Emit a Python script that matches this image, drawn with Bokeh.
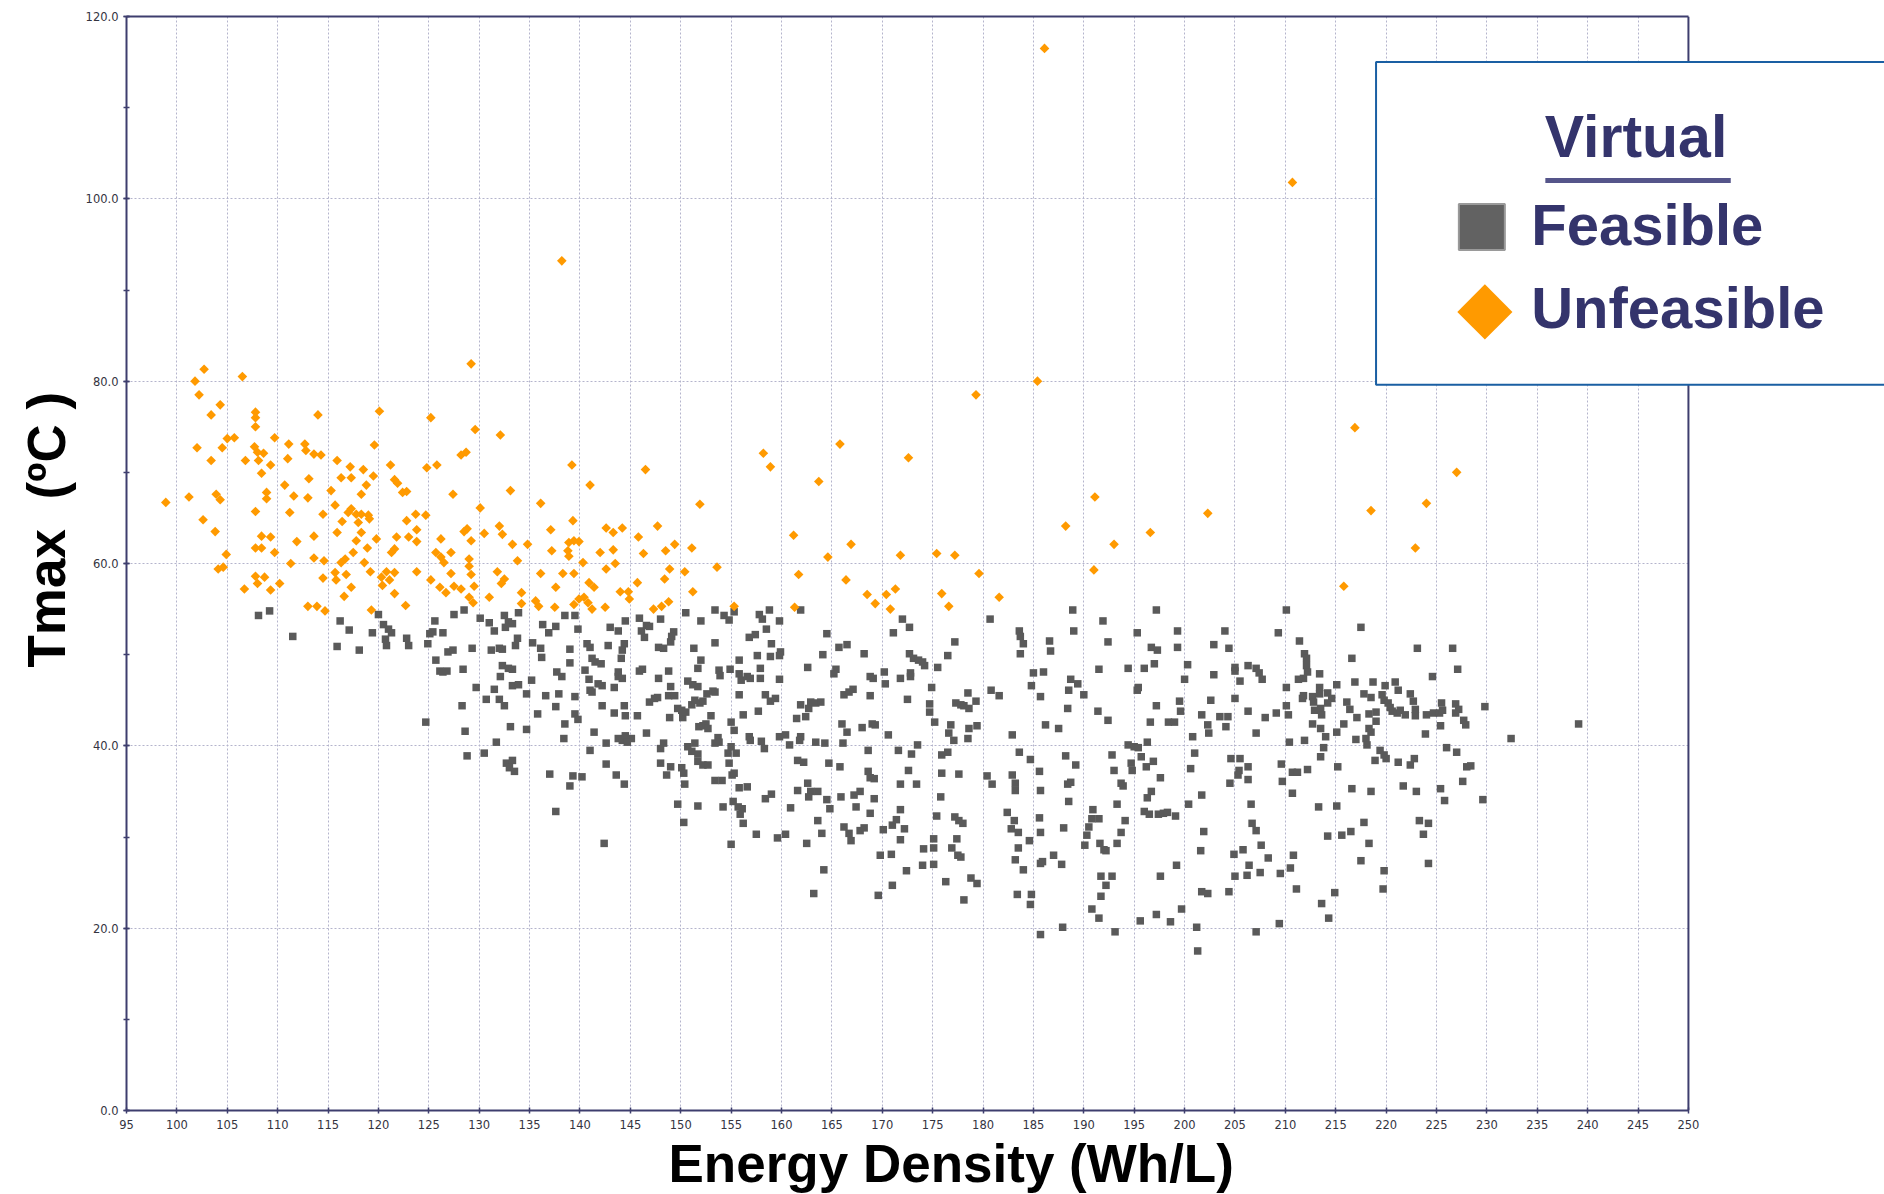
import math
from bokeh.plotting import figure
from bokeh.models import (Range1d, LinearAxis, SingleIntervalTicker, FixedTicker,
                          PrintfTickFormatter, Label, Title)
from bokeh.embed import file_html
from bokeh.resources import INLINE

# ---------------- data ----------------
x_label = "Energy Density (Wh/L)"
y_label = "Tmax \u00a0(ºC )"
legend_title = "Virtual"
legend_names = ["Feasible", "Unfeasible"]

feasible_pts = [
    (108.1,54.3),(109.2,54.8),(111.5,52.0),(116.2,53.7),(117.1,52.7),(115.9,50.9),(118.1,50.5),(119.4,52.4),
    (120.0,54.4),(120.5,53.3),(121.0,52.8),(121.3,52.4),(120.7,51.7),(120.8,51.0),
    (127.5,54.4),(128.5,54.9),(125.6,53.7),(130.1,54.0),(131.0,53.5),(132.5,54.3),(132.9,53.6),(133.3,53.4),
    (132.6,53.0),(133.9,54.6),(136.3,53.3),(136.9,52.4),(137.6,53.1),(138.5,54.3),(139.5,54.3),(139.8,52.8),
    (143.0,53.0),(143.8,52.6),(144.5,53.7),(145.9,54.0),(146.6,53.2),(146.9,53.1),(148.0,53.9),(150.5,54.6),
    (152.0,53.7),(153.4,54.9),(154.3,54.3),(154.8,53.8),(155.3,54.7),(157.8,54.4),(158.1,53.9),(158.8,54.9),
    (159.8,53.7),(161.9,54.9),(164.5,52.3),(171.1,52.4),
    (122.8,51.8),(123.0,51.0),(125.1,52.3),(125.4,52.5),(124.9,51.2),(126.4,52.4),(129.3,50.7),(131.5,52.6),
    (131.2,50.5),(132.0,50.7),(132.3,50.6),(133.8,51.8),(133.6,51.0),(135.3,51.3),(136.1,50.7),(136.2,49.7),
    (139.0,50.6),(139.0,49.1),(140.7,51.2),(141.0,50.8),(142.8,51.0),(144.4,51.2),(144.2,50.5),(144.1,49.6),
    (146.1,52.6),(146.4,51.9),(147.8,50.8),(148.3,50.7),(149.0,51.4),(149.3,52.5),(149.1,52.0),(151.3,50.7),
    (153.4,51.3),(156.8,51.9),(157.4,52.2),(158.5,52.8),(159.0,51.2),(159.9,50.3),(159.8,49.9),(164.1,50.0),
    (165.7,50.8),(166.5,51.1),(168.2,50.1),
    (125.7,49.4),(126.1,48.2),(126.4,48.1),(126.8,48.2),(126.9,50.3),(127.4,50.5),(128.4,48.4),(129.7,46.4),
    (130.7,45.1),(131.5,46.2),(132.3,48.8),(132.9,48.5),(133.3,48.4),(132.1,47.6),(133.3,46.6),(133.9,46.7),
    (132.0,45.1),(132.5,44.4),(134.7,45.7),(135.2,47.2),(136.6,45.5),(137.7,48.1),(138.2,47.6),(137.9,45.7),
    (139.5,45.4),(140.5,48.3),(140.9,47.3),(141.2,49.6),(141.5,49.2),(142.1,49.0),(141.0,46.1),(141.2,45.9),
    (141.8,46.8),(142.2,46.6),(143.4,46.4),(143.8,48.1),(143.8,47.6),(144.2,47.4),(145.9,48.2),(146.2,48.4),
    (147.8,47.4),(148.8,48.2),(149.0,46.5),(148.8,45.5),(149.4,45.5),(150.7,47.1),(151.2,46.7),(151.7,46.5),
    (151.7,48.5),(152.0,49.4),(153.8,48.3),(153.9,47.7),(154.9,48.4),(155.8,49.4),(155.8,47.9),(156.0,47.2),
    (156.6,47.6),(156.9,47.4),(157.9,48.5),(157.9,47.4),(157.6,49.9),(158.9,49.8),(159.8,47.3),(162.6,48.6),
    (165.4,48.4),(165.2,47.9),(168.8,47.6),(169.1,47.4),(168.8,45.5),(170.2,48.1),(170.3,46.8),
    (124.7,42.6),(128.3,44.4),(128.6,41.6),(130.5,39.2),(128.8,38.9),(131.7,40.4),(133.1,42.1),(134.7,41.8),
    (135.8,43.5),(137.6,44.3),(138.5,42.4),(139.5,43.5),(139.8,42.9),(138.4,40.8),(141.4,41.5),(142.2,44.4),
    (142.6,40.3),(141.0,39.5),(143.4,43.6),(144.4,44.4),(144.5,43.3),(145.7,43.3),(143.8,40.8),(144.2,40.6),
    (144.5,41.1),(145.1,40.8),(144.7,40.4),(146.6,41.4),(146.9,44.8),(147.4,45.2),(147.7,45.3),(148.9,43.1),
    (149.7,44.1),(150.1,43.9),(150.2,43.1),(150.5,43.7),(151.1,44.5),(151.4,45.0),(151.9,44.7),(152.2,44.9),
    (152.6,45.7),(153.2,46.0),(153.4,45.9),(153.0,43.3),(151.8,42.1),(152.2,42.2),(152.5,42.4),(152.7,41.9),
    (153.7,40.9),(153.4,40.3),(153.8,40.4),(155.0,42.6),(155.3,41.7),(156.2,43.4),(155.8,45.6),(157.7,43.8),
    (156.8,41.0),(156.9,40.6),(158.0,40.5),(158.3,39.7),(158.4,45.6),(158.9,44.9),(159.4,45.2),(159.8,41.0),
    (160.4,41.2),(161.5,43.0),(161.9,44.5),(162.4,43.2),(162.7,44.1),(162.9,44.8),(163.4,44.7),(163.9,44.8),
    (161.9,41.0),(161.8,40.6),(160.8,40.1),(163.4,40.4),(164.3,40.3),(166.0,42.4),(166.5,41.5),(166.1,40.3),
    (166.2,45.6),(166.7,45.9),(167.1,46.2),(168.0,42.0),(169.0,42.4),(169.3,42.3),(170.6,41.2),
    (132.7,38.1),(133.3,38.4),(133.0,37.6),(133.5,37.2),(137.0,36.9),(139.3,36.7),(140.2,36.6),(139.0,35.6),
    (137.6,32.8),(142.6,38.0),(143.6,36.8),(144.4,35.8),(142.4,29.3),(148.0,39.7),(148.3,40.3),(148.0,38.1),
    (149.0,37.7),(148.6,36.8),(150.1,37.6),(150.3,37.0),(150.4,35.8),(149.7,33.6),(150.3,31.6),(150.7,39.9),
    (151.4,40.3),(151.1,39.4),(151.7,39.1),(151.7,38.3),(152.2,37.9),(152.7,37.9),(151.7,33.4),(153.4,36.2),
    (154.1,36.2),(154.2,33.3),(154.7,39.2),(155.0,39.9),(154.8,38.1),(155.5,39.2),(155.1,36.8),(155.3,37.0),
    (155.2,33.9),(155.7,33.3),(156.1,33.1),(155.9,32.5),(156.2,31.5),(155.0,29.2),(155.8,35.4),(156.6,35.5),
    (157.5,30.3),(158.4,34.2),(159.0,34.7),(159.6,29.9),(160.4,30.3),(160.9,33.2),(161.6,38.4),(162.2,38.2),
    (161.6,35.1),(162.6,35.9),(162.9,35.0),(163.6,35.0),(162.7,34.4),(162.5,29.3),(163.6,31.8),(164.0,30.4),
    (164.2,26.4),(163.2,23.8),(164.7,38.1),(165.8,37.7),(164.5,34.1),(164.8,33.1),(165.9,34.4),(166.2,31.1),
    (166.7,30.4),(166.9,29.6),(167.2,34.6),(167.4,33.3),(167.8,35.0),(167.8,30.7),(168.2,31.0),(168.6,37.2),
    (168.8,36.5),(169.2,36.4),(168.6,39.5),(168.8,32.6),(169.2,34.2),(170.1,30.8),(171.0,31.3),(171.4,31.9),
    (169.8,28.0),(170.9,28.1),(171.0,24.7),(169.6,23.6),(171.8,35.8),(171.8,33.0),(171.8,47.4),(171.8,29.7),
    (171.6,39.5),
    (172.0,53.9),(172.7,53.0),(172.7,50.1),(173.1,49.6),(173.6,49.4),(174.0,49.2),(174.2,48.8),(172.8,48.0),
    (172.8,47.6),(172.5,45.1),(175.5,48.6),(176.5,49.9),(177.2,51.4),(174.9,46.4),(174.7,44.6),(174.7,43.7),
    (175.2,42.6),(177.3,44.7),(177.8,44.5),(178.1,44.4),(178.6,44.1),(178.5,45.8),(179.3,44.9),(176.8,42.3),
    (176.6,41.4),(177.1,40.6),(178.5,40.8),(178.6,41.9),(179.4,42.2),(173.5,40.1),(172.9,39.1),(172.6,37.3),
    (173.4,35.8),(172.2,30.9),(172.4,26.3),(174.1,28.7),(174.0,26.9),(175.1,28.8),(175.1,27.0),(176.3,25.1),
    (175.1,29.8),(175.8,34.4),(175.4,32.3),(177.2,32.2),(177.6,31.8),(178.0,31.5),(177.4,29.8),(176.9,28.8),
    (177.5,28.0),(177.8,27.8),(178.1,23.1),(178.8,25.5),(179.4,24.9),(175.9,37.0),(177.6,36.9),(175.9,39.0),
    (176.5,39.3),(180.7,53.9),(180.8,46.1),(181.6,45.5),(180.4,36.7),(180.9,35.8),(182.4,32.7),(182.8,30.9),
    (183.5,30.5),(183.2,27.5),(183.1,31.8),(183.5,28.8),(184.6,29.6),(183.4,23.7),(184.8,23.7),(184.7,22.6),
    (182.9,41.2),(183.6,52.6),(183.7,52.0),(184.0,51.2),(183.7,50.1),(182.9,36.8),(183.2,35.9),(183.2,35.1),
    (183.6,39.3),(184.0,26.4),(184.7,38.5),(185.0,48.0),(186.0,48.1),(184.8,46.6),(185.7,45.4),(186.6,51.5),
    (186.7,50.4),(186.2,42.3),(187.5,41.9),(185.6,37.2),(185.7,35.1),(185.6,32.1),(185.7,30.5),(185.7,27.1),
    (185.9,27.3),(187.0,28.0),(187.8,27.0),(185.7,19.3),(187.9,20.1),(188.2,38.9),(189.2,37.9),(188.4,35.8),
    (188.7,36.0),(188.5,33.9),(188.0,31.0),(188.9,54.9),(189.0,52.6),(188.7,47.3),(189.4,46.8),(188.5,46.1),
    (190.0,45.6),(188.4,44.1),(191.4,43.8),(192.4,42.8),(191.9,53.7),(192.4,51.4),(191.5,48.4),(190.1,29.1),
    (190.3,30.2),(190.5,31.1),(190.8,32.0),(191.5,32.0),(190.9,33.0),(191.6,29.3),(192.0,28.6),(192.2,28.5),
    (191.7,25.7),(192.8,25.7),(192.2,24.7),(191.7,23.5),(190.8,22.1),(191.5,21.1),(193.1,19.6),(192.8,39.0),
    (193.0,37.3),(193.7,35.9),(193.9,35.6),(193.3,33.6),(194.1,31.8),(193.7,30.5),(193.3,29.3),(194.4,48.5),
    (195.3,52.4),(195.4,46.4),(195.3,46.1),(194.4,40.1),(195.0,39.9),(195.4,39.8),(196.3,40.4),(195.7,38.8),
    (196.2,37.7),(196.9,38.3),(194.7,38.1),(194.8,37.3),(196.7,50.8),(197.3,50.5),(196.0,48.5),(197.0,49.0),
    (197.2,54.9),(197.2,44.4),(196.6,42.6),(197.6,36.5),(196.7,35.0),(196.3,34.3),(196.0,32.8),(196.5,32.5),
    (197.4,32.5),(197.9,32.6),(198.3,32.7),(199.1,32.3),(197.6,25.7),(199.2,26.9),(195.6,20.8),(197.2,21.5),
    (198.6,20.7),(199.7,22.1),(199.3,52.6),(199.3,50.8),(200.3,48.9),(200.0,47.3),(199.5,44.9),(199.6,43.8),
    (198.4,42.6),(199.0,42.6),(200.8,41.0),(201.0,39.2),(200.6,37.5),(200.4,33.6),(201.7,34.6),(201.9,30.6),
    (201.6,28.5),(201.7,24.0),(202.3,23.8),(201.2,20.1),(201.3,17.5),(201.7,43.4),(202.6,45.0),(202.9,51.1),
    (202.9,47.8),(202.3,42.3),(202.4,41.4),(203.5,43.2),(204.3,43.2),(204.1,42.1),(204.0,52.6),(204.4,50.7),
    (205.0,48.6),(205.0,48.2),(205.5,47.1),(205.0,45.2),(206.3,48.8),(207.1,48.5),(207.4,48.0),(207.7,47.3),
    (206.3,43.8),(207.1,41.4),(208.0,43.1),(209.1,43.6),(204.6,38.6),(205.5,38.6),(205.4,37.3),(205.3,36.8),
    (204.5,35.9),(206.3,37.7),(206.3,36.3),(206.6,33.6),(206.7,31.5),(207.1,30.7),(207.6,29.1),(208.3,27.7),
    (204.9,28.1),(205.8,28.6),(206.4,26.9),(206.2,25.8),(205.0,25.7),(207.5,26.1),(204.4,24.0),(207.1,19.6),
    (209.4,20.5),(209.3,52.4),(210.1,54.9),(210.1,46.4),(210.1,44.4),(210.3,43.4),(210.4,40.4),(209.6,38.0),
    (209.7,36.1),(210.7,37.1),(211.2,37.1),(212.2,37.4),(210.7,34.8),(209.5,26.0),(210.5,26.6),(210.8,28.0),
    (211.1,24.3),(211.4,51.5),(211.9,50.1),(212.1,49.6),(212.1,48.8),(212.2,48.1),(211.8,47.4),(211.3,47.3),
    (211.8,45.5),(211.7,45.2),(212.7,45.4),(212.8,44.8),(212.9,43.9),(213.4,46.4),(213.4,45.7),(211.9,40.6),
    (212.7,42.4),(213.5,41.9),(213.5,38.8),(213.3,33.3),(213.6,22.7),(213.4,47.9),(213.5,44.1),(213.6,43.4),
    (217.5,53.0),(216.6,49.6),(215.1,46.7),(216.9,47.0),(218.7,47.0),(219.9,46.6),(220.9,47.0),(221.2,46.1),
    (223.1,50.7),(226.6,50.7),(227.1,48.4),(224.6,47.6),(214.2,45.8),(214.6,45.2),(214.2,44.7),(216.1,44.8),
    (216.4,44.0),(217.8,45.7),(218.5,45.3),(219.6,45.6),(219.8,45.0),(220.2,44.7),(220.4,44.2),(220.6,43.8),
    (221.1,43.6),(221.4,43.9),(221.9,43.4),(222.4,45.7),(222.7,44.9),(222.9,44.0),(222.9,43.3),(224.0,43.4),
    (224.7,43.6),(225.3,43.6),(225.6,43.9),(225.5,44.7),(225.4,42.2),(226.9,44.6),(227.2,44.0),(226.9,43.6),
    (227.7,42.8),(227.9,42.3),(229.8,44.3),(215.1,41.5),(215.8,42.4),(217.0,40.7),(218.0,40.8),(218.3,41.9),
    (218.5,41.5),(218.3,43.5),(219.0,43.7),(219.0,42.7),(218.1,40.1),(217.1,43.1),(214.0,41.0),(213.8,39.8),
    (215.2,37.7),(219.4,39.5),(219.8,39.0),(220.0,38.6),(218.9,38.4),(221.2,38.2),(222.4,37.9),(222.8,38.6),
    (223.9,41.3),(226.0,39.8),(227.0,39.3),(228.0,37.7),(228.4,37.8),(227.6,36.1),(232.4,40.8),(239.1,42.4),
    (216.6,35.3),(218.5,35.0),(215.1,33.4),(221.7,35.6),(223.0,35.0),(225.4,35.3),(225.8,34.0),(229.6,34.1),
    (217.8,31.6),(214.2,30.1),(215.6,30.2),(216.5,30.6),(218.3,29.3),(217.5,27.4),(223.3,31.8),(224.2,31.5),
    (223.7,30.3),(224.2,27.1),(219.8,26.3),(219.7,24.3),(214.9,23.9),(214.3,21.1),
]

unfeasible_pts = [
    (98.9,66.7),(101.2,67.3),(101.8,80.0),(102.7,81.3),(102.2,78.5),(102.0,72.7),(103.4,76.3),(104.3,77.4),
    (103.4,71.3),(102.6,64.8),(103.8,63.5),(103.9,67.6),(104.3,67.0),(104.5,72.7),(105.0,73.7),(105.7,73.8),
    (104.9,61.0),(104.1,59.4),(104.6,59.6),(106.5,80.5),(106.8,71.3),(106.7,57.2),(107.8,76.6),(107.8,76.0),
    (107.8,75.0),(107.7,72.8),(108.0,72.2),(108.6,72.1),(108.1,71.3),(108.4,69.9),(108.9,67.8),(108.9,67.1),
    (107.8,65.7),(108.4,63.0),(109.3,62.9),(107.8,61.7),(108.4,61.7),(109.7,61.2),(107.8,58.6),(108.0,57.8),
    (108.7,58.5),(109.3,57.1),(110.2,57.8),(109.7,73.8),(109.3,70.8),(111.1,73.1),(111.0,71.5),(110.7,68.6),
    (111.6,67.4),(111.2,65.6),(111.9,62.4),(111.3,60.0),(112.7,73.1),(112.8,72.4),(113.6,72.0),(114.3,71.9),
    (114.0,76.3),(113.1,69.3),(113.0,67.2),(114.5,65.4),(113.6,63.0),(113.6,60.6),(114.6,60.3),(114.5,58.4),
    (113.0,55.3),(113.9,55.3),(114.7,54.8),(115.3,68.0),(115.9,71.3),(115.7,66.4),(116.4,64.6),(115.9,63.4),
    (117.2,70.6),(116.3,69.4),(117.3,69.4),(117.0,65.6),(117.3,66.0),(117.8,65.4),(118.0,64.5),(118.3,65.4),
    (119.0,65.3),(119.1,64.9),(118.5,70.3),(118.8,68.6),(118.3,67.6),(119.5,69.6),(118.3,63.4),(117.8,62.5),
    (118.9,61.7),(117.5,61.2),(116.7,60.5),(116.3,60.1),(118.6,60.1),(119.2,59.1),(119.8,62.7),(115.7,59.0),
    (115.8,58.2),(116.8,58.8),(117.3,57.4),(116.6,56.4),(119.3,54.9),(120.1,76.7),(119.6,73.0),(121.2,70.8),
    (121.6,69.2),(121.9,68.8),(122.4,67.8),(122.8,67.9),(122.8,64.7),(123.7,65.4),(124.7,65.3),(123.8,63.7),
    (123.8,62.4),(123.0,62.9),(121.8,62.9),(121.6,61.6),(121.3,61.2),(120.3,58.5),(120.8,59.1),(121.1,58.2),
    (120.4,57.6),(121.6,59.0),(121.6,56.7),(122.7,55.4),(123.8,59.1),(125.2,76.0),(124.8,70.5),(125.8,70.8),
    (127.4,67.6),(126.2,62.7),(125.7,61.2),(126.2,60.7),(126.5,60.1),(127.2,61.2),(127.2,58.9),(125.2,58.2),
    (126.1,57.4),(126.7,56.8),(127.5,57.5),(128.2,57.2),(129.2,81.9),(129.6,74.7),(128.2,71.9),(128.7,72.2),
    (130.1,66.1),(128.5,63.5),(128.8,63.8),(129.2,62.5),(130.5,63.3),(129.0,60.5),(129.0,59.7),(129.2,58.8),
    (129.5,57.5),(129.0,56.3),(129.4,55.7),(131.0,56.3),(132.1,74.1),(133.1,68.0),(132.0,64.1),(132.3,63.2),
    (133.3,62.1),(134.8,62.1),(133.8,60.3),(131.8,59.1),(132.5,58.3),(132.2,57.8),(134.2,56.8),(134.2,55.6),
    (136.1,66.6),(137.1,63.7),(137.2,61.4),(136.1,58.9),(137.6,57.4),(135.6,55.9),(135.9,55.3),(137.5,55.2),
    (139.2,70.8),(139.3,64.7),(138.9,62.3),(139.4,62.5),(139.9,62.4),(138.8,61.4),(138.9,60.8),(138.3,58.9),
    (139.4,58.9),(139.4,55.5),(139.9,56.1),(140.4,56.3),(140.8,55.7),(141.0,68.6),(140.3,60.1),(140.9,57.9),
    (138.2,93.2),
    (141.4,57.4),(141.2,55.0),(146.5,70.3),(142.6,63.9),(143.3,63.4),(144.2,63.9),(142.0,61.2),(143.3,61.5),
    (143.5,60.0),(142.6,59.4),(142.5,55.2),(144.0,56.9),(144.8,56.9),(144.9,56.1),(145.8,62.9),(147.7,64.1),
    (146.3,61.1),(148.5,61.4),(149.4,62.1),(148.9,59.4),(148.4,58.3),(145.7,57.9),(147.3,55.0),(148.1,55.3),
    (148.8,55.8),(151.9,66.5),(151.1,61.7),(150.4,59.1),(151.2,56.9),(153.6,59.6),(155.3,55.3),(158.2,72.1),
    (158.9,70.6),(161.2,63.1),(161.7,58.8),(161.3,55.2),(163.7,69.0),(165.8,73.1),(164.6,60.7),(166.9,62.1),
    (166.4,58.2),(168.5,56.6),(169.3,55.6),(170.4,56.6),(171.3,57.2),(170.8,55.0),(171.8,60.9),(172.6,71.6),
    (175.4,61.1),(177.2,60.9),(179.3,78.5),(175.9,56.7),(176.6,55.3),(179.6,58.9),(181.6,56.3),
    (185.4,80.0),(188.2,64.1),(191.1,67.3),(193.0,62.1),(191.0,59.3),(196.6,63.4),(202.3,65.5),(216.9,74.9),
    (218.5,65.8),(215.8,57.5),(222.9,61.7),(224.0,66.6),(227.0,70.0),(210.7,101.8),(186.1,116.5),
]

feasible_x = [p[0] for p in feasible_pts]
feasible_y = [p[1] for p in feasible_pts]
unfeasible_x = [p[0] for p in unfeasible_pts]
unfeasible_y = [p[1] for p in unfeasible_pts]

X_MIN, X_MAX, X_STEP = 95, 250, 5
Y_MIN, Y_MAX, Y_STEP = 0, 120, 20

# ---------------- layout ----------------
W, H = 1884, 1194
BORDER_L, BORDER_T, BORDER_B = 126, 16, 84
PX_PER_UNIT_X = 10.077
x_end = X_MIN + (W - BORDER_L) / PX_PER_UNIT_X

NAVY = "#3e3e6e"
GRID = "#b4b4cc"
GRAY = "#5a5a5a"
ORANGE = "#ff9a00"
LEG_TXT = "#34346c"

p = figure(width=W, height=H, output_backend="svg", toolbar_location=None,
           x_range=Range1d(X_MIN, x_end), y_range=Range1d(Y_MIN, Y_MAX),
           min_border_left=BORDER_L, min_border_right=0,
           min_border_top=BORDER_T, min_border_bottom=BORDER_B)
p.outline_line_color = None
p.background_fill_color = "white"
p.border_fill_color = "white"

xt = SingleIntervalTicker(interval=X_STEP, num_minor_ticks=0)
yt = SingleIntervalTicker(interval=Y_STEP, num_minor_ticks=2)

for ax in (p.xaxis[0], p.yaxis[0]):
    ax.axis_line_color = NAVY
    ax.axis_line_width = 2
    ax.major_tick_line_color = NAVY
    ax.minor_tick_line_color = NAVY
    ax.major_tick_line_width = 1.5
    ax.minor_tick_line_width = 1.5
    ax.major_tick_in = 3
    ax.major_tick_out = 3
    ax.minor_tick_in = 3
    ax.minor_tick_out = 3
    ax.major_label_text_font = "DejaVu Sans"
    ax.major_label_text_font_size = "11.5px"
    ax.major_label_text_color = "#34343f"

p.xaxis[0].ticker = xt
p.xaxis[0].bounds = (X_MIN, X_MAX)
p.xaxis[0].major_label_standoff = 6
p.yaxis[0].ticker = yt
p.yaxis[0].bounds = (Y_MIN, Y_MAX)
p.yaxis[0].major_label_standoff = 5
p.yaxis[0].formatter = PrintfTickFormatter(format="%.1f")

p.xgrid.ticker = xt
p.ygrid.ticker = yt
for g in (p.xgrid[0], p.ygrid[0]):
    g.grid_line_color = GRID
    g.grid_line_dash = "2 2"
    g.grid_line_width = 1

# top border of the plotting box
top_axis = LinearAxis(ticker=FixedTicker(ticks=[]), bounds=(X_MIN, X_MAX),
                      axis_line_color=NAVY, axis_line_width=2,
                      major_tick_in=0, major_tick_out=0, minor_tick_in=0, minor_tick_out=0,
                      major_label_standoff=0)
p.add_layout(top_axis, "above")

# axis titles
p.add_layout(Title(text=x_label, align="left", offset=542, standoff=0,
                   text_font="Liberation Sans", text_font_style="bold",
                   text_font_size="53px", text_color="black"), "below")
p.add_layout(Title(text=y_label, align="left", offset=443, standoff=14,
                   text_font="Liberation Sans", text_font_style="bold",
                   text_font_size="53px", text_color="black"), "left")

# data
p.scatter(feasible_x, feasible_y, marker="square", size=7.5,
          fill_color=GRAY, line_color=None)
p.scatter(unfeasible_x, unfeasible_y, marker="square", angle=math.pi / 4, size=6.8,
          fill_color=ORANGE, line_color=None)

# blank area right of the box, and its right border
p.quad(left=[X_MAX], right=[x_end + 5], bottom=[Y_MIN], top=[Y_MAX],
       fill_color="white", line_color=None)
p.segment(x0=[X_MAX], y0=[Y_MIN], x1=[X_MAX], y1=[Y_MAX], line_color=NAVY, line_width=2)

# legend box
LEG_L, LEG_B, LEG_T = 219.0, 79.6, 115.0
p.quad(left=[LEG_L], right=[x_end + 10], bottom=[LEG_B], top=[LEG_T],
       fill_color="white", line_color="#1a5fa3", line_width=2)
p.add_layout(Label(x=244.8, y=106.8, text=legend_title, text_align="center",
                   text_baseline="alphabetic", text_font="Liberation Sans",
                   text_font_style="bold", text_font_size="59px", text_color=LEG_TXT))
p.segment(x0=[235.8], y0=[102.0], x1=[254.2], y1=[102.0], line_color="#55558a", line_width=5)
p.scatter([229.5], [96.9], marker="square", size=46, fill_color="#626262",
          line_color="#9a9a9a", line_width=2)
p.scatter([229.8], [87.6], marker="square", angle=math.pi / 4, size=39,
          fill_color=ORANGE, line_color=None)
p.add_layout(Label(x=234.4, y=97.2, text=legend_names[0], text_align="left",
                   text_baseline="alphabetic", text_font="Liberation Sans",
                   text_font_style="bold", text_font_size="58px", text_color=LEG_TXT))
p.add_layout(Label(x=234.4, y=88.1, text=legend_names[1], text_align="left",
                   text_baseline="alphabetic", text_font="Liberation Sans",
                   text_font_style="bold", text_font_size="58px", text_color=LEG_TXT))

open("out.html", "w").write(file_html(p, INLINE))
